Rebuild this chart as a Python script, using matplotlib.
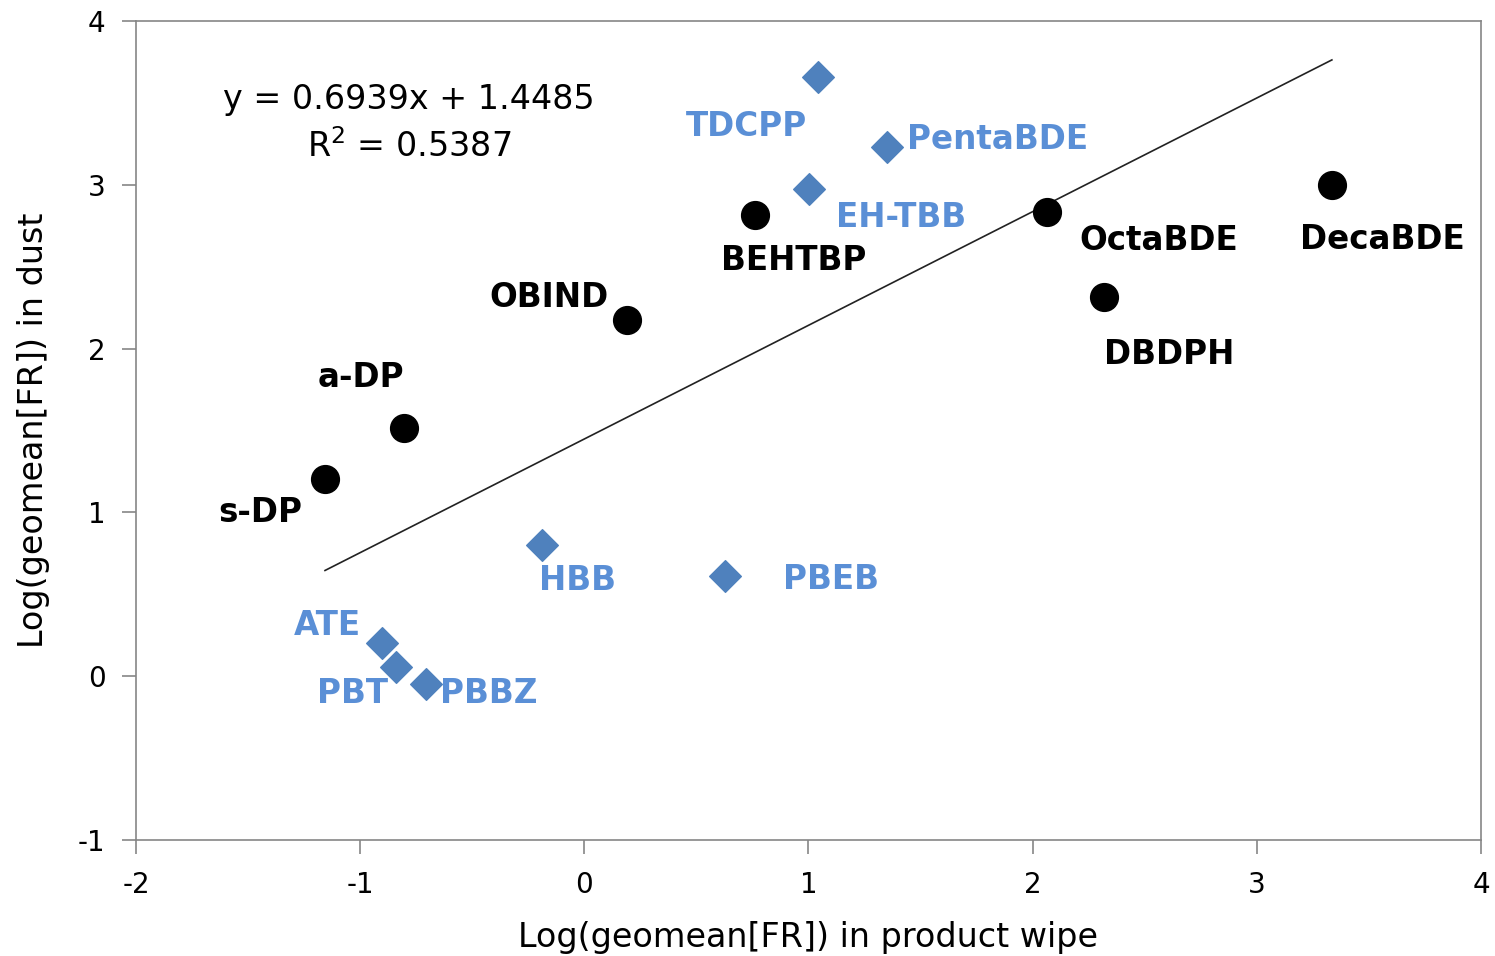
import matplotlib
matplotlib.use('Agg')
import matplotlib.pyplot as plt
import numpy as np

plt.rcParams['font.family'] = ['DejaVu Sans']
plt.rcParams['axes.unicode_minus'] = False

# black circles
circ_names = ['s-DP', 'a-DP', 'OBIND', 'BEHTBP', 'OctaBDE', 'DBDPH', 'DecaBDE']
circ_x = [-1.157, -0.805, 0.190, 0.761, 2.063, 2.318, 3.335]
circ_y = [1.204, 1.515, 2.175, 2.816, 2.834, 2.315, 2.999]

# blue diamonds
diam_names = ['TDCPP', 'PentaBDE', 'EH-TBB', 'HBB', 'PBEB', 'ATE', 'PBT', 'PBBZ']
diam_x = [1.042, 1.350, 1.002, -0.189, 0.627, -0.903, -0.840, -0.707]
diam_y = [3.658, 3.231, 2.974, 0.801, 0.612, 0.203, 0.056, -0.048]

slope, intercept, r2 = 0.6939, 1.4485, 0.5387

# label offsets in pixels from each marker
circ_off = [(-65, -33), (-43, 51), (-78, 22), (39, -46), (112, -28), (65, -57), (50, -55)]
diam_off = [(-71, -49), (111, 7), (92, -28), (36, -35), (106, -4), (-55, 17), (-44, -26), (63, -9)]

blue = '#4F81BD'
label_blue = '#5A8FD6'
grey = '#868686'

fig = plt.figure(figsize=(14.95, 9.56), dpi=100)
ax = fig.add_axes([0.091, 0.1213, 0.8996, 0.8567])

all_x = circ_x + diam_x
xs = np.array([min(all_x), max(all_x)])
ax.plot(xs, slope * xs + intercept, color='#222222', lw=1.2, zorder=2)

ax.scatter(circ_x, circ_y, s=400, marker='o', color='black', zorder=3)
ax.scatter(diam_x, diam_y, s=260, marker='D', color=blue, zorder=3)

for n, x, y, off in zip(circ_names, circ_x, circ_y, circ_off):
    ax.annotate(n, (x, y), xytext=off, textcoords='offset pixels',
                ha='center', va='center', fontsize=23.5, fontweight='bold', color='black')
for n, x, y, off in zip(diam_names, diam_x, diam_y, diam_off):
    ax.annotate(n, (x, y), xytext=off, textcoords='offset pixels',
                ha='center', va='center', fontsize=23.5, fontweight='bold', color=label_blue)

ax.text(-0.782, 3.524, 'y = %.4fx + %.4f' % (slope, intercept), ha='center', va='center', fontsize=24)
ax.text(-0.782, 3.231, 'R$^2$ = %.4f' % r2, ha='center', va='center', fontsize=24)

ax.set_xlim(-2, 4)
ax.set_ylim(-1, 4)
ax.set_xticks(range(-2, 5))
ax.set_yticks(range(-1, 5))
for s in ax.spines.values():
    s.set_color(grey)
    s.set_linewidth(1.2)
ax.tick_params(direction='out', length=10, width=1.2, color=grey, labelsize=20, pad=12)

ax.set_xlabel('Log(geomean[FR]) in product wipe', fontsize=24, labelpad=16)
ax.set_ylabel('Log(geomean[FR]) in dust', fontsize=24, labelpad=20)

fig.savefig('out.png', dpi=100)
